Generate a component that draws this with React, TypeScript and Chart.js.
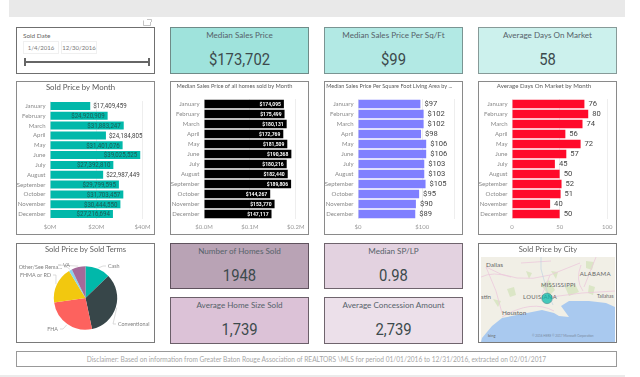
import React, { useEffect, useRef } from "react";
import { Chart, registerables } from "chart.js";

Chart.register(...registerables);

const months = ["January","February","March","April","May","June","July","August","September","October","November","December"];
const soldPriceByMonth = [17409459,24920909,31883247,24184805,31401076,39025525,27392810,22987449,29799595,31703457,30444550,27216694];
const medianPriceByMonth = [174095,175499,180131,172769,181509,190368,180216,182440,189806,144267,153770,147117];
const pricePerSqFtByMonth = [97,102,102,98,106,106,103,103,105,95,90,89];
const daysOnMarketByMonth = [76,80,74,56,72,57,45,50,52,51,40,50];
const termCategories = ["Cash","Conventional","FHA","FHMA or RD","Other/See Rema...","VA"];
const termValues = [12.8,33.9,26,18.6,1.6,7.1];
const cityPoints = [{ x: -91.15, y: 30.45, r: 5.3 }];
const cityNames = ["Baton Rouge"];

const UI = "Lato, sans-serif";
const NUM = "Roboto, sans-serif";
const usd = (v: number) => "$" + v.toLocaleString("en-US");

const barValueLabels = (fmt: (v: number) => string, o: { size: number; weight?: string; colorIn?: string; colorOut: string; insideFrom: number; gap: number; squeeze: number }) => ({
  id: "barValueLabels",
  afterDatasetsDraw(chart: any) {
    const { ctx } = chart;
    const meta = chart.getDatasetMeta(0);
    const vals = chart.data.datasets[0].data as number[];
    ctx.save();
    ctx.font = `${o.weight || "400"} ${o.size}px ${NUM}`;
    ctx.textBaseline = "middle";
    meta.data.forEach((bar: any, i: number) => {
      const inside = vals[i] >= o.insideFrom;
      const text = fmt(vals[i]);
      ctx.fillStyle = inside ? o.colorIn : o.colorOut;
      ctx.textAlign = inside ? "right" : "left";
      ctx.fillText(text, inside ? bar.x - o.gap : bar.x + o.gap, bar.y + 0.5, ctx.measureText(text).width * o.squeeze);
    });
    ctx.restore();
  },
});

type BarProps = {
  left: number; top: number; w: number; h: number; title: string; titleSize: number; titlePadTop: number;
  area: { l: number; r: number; t: number; b: number }; values: number[]; color: string; max: number; step: number;
  tick: (v: number) => string; fmt: (v: number) => string; label: any; barPct: number;
};

function BarPanel(p: BarProps) {
  const ref = useRef<HTMLCanvasElement>(null);
  useEffect(() => {
    const lh = 1.2;
    const chart = new Chart(ref.current!, {
      type: "bar",
      plugins: [barValueLabels(p.fmt, p.label)],
      data: { labels: months, datasets: [{ data: p.values, backgroundColor: p.color, barPercentage: p.barPct, categoryPercentage: 1 }] },
      options: {
        indexAxis: "y", animation: false, responsive: false, devicePixelRatio: 1,
        layout: { autoPadding: false, padding: { left: 0, top: 0, bottom: 0, right: p.w - p.area.r } },
        plugins: {
          legend: { display: false }, tooltip: { enabled: false },
          title: { display: true, text: p.title, color: "#5a5a5a", font: { family: UI, size: p.titleSize, lineHeight: lh, weight: "400" },
            padding: { top: p.titlePadTop, bottom: p.area.t - p.titlePadTop - p.titleSize * lh } },
        },
        scales: {
          y: { afterFit: (s: any) => { s.width = p.area.l; }, grid: { display: false, drawTicks: false }, border: { display: false },
            ticks: { color: "#8a8a8a", font: { family: UI, size: 6, weight: "400" }, padding: 4.5, autoSkip: false } },
          x: { min: 0, max: p.max, afterFit: (s: any) => { s.height = p.h - p.area.b; }, border: { display: false },
            grid: { color: "#eeeeee", drawTicks: false },
            ticks: { stepSize: p.step, color: "#999999", font: { family: UI, size: 6, weight: "400" }, padding: 4.5, maxRotation: 0, callback: (v: any) => p.tick(Number(v)) } },
        },
      },
    } as any);
    return () => chart.destroy();
  }, []);
  return (
    <div style={{ position: "absolute", left: p.left, top: p.top, width: p.w, height: p.h, boxSizing: "border-box", border: "1px solid #8a8a8a" }}>
      <canvas ref={ref} width={p.w} height={p.h} style={{ position: "absolute", left: -1, top: -1, display: "block" }} />
    </div>
  );
}

const pieLabelAnchors = [
  { x: 92, y: 23, align: "left" }, { x: 102, y: 81, align: "left" }, { x: 42, y: 86, align: "right" },
  { x: 35, y: 32, align: "right" }, { x: 46, y: 24, align: "right" }, { x: 47, y: 22, align: "left" },
];

function PiePanel() {
  const ref = useRef<HTMLCanvasElement>(null);
  useEffect(() => {
    const leaders = {
      id: "pieLeaders",
      afterDatasetsDraw(chart: any) {
        const { ctx } = chart;
        ctx.save();
        ctx.font = `400 5.4px ${UI}`;
        ctx.textBaseline = "middle";
        chart.getDatasetMeta(0).data.forEach((arc: any, i: number) => {
          const a = pieLabelAnchors[i];
          const mid = (arc.startAngle + arc.endAngle) / 2;
          const px = arc.x + Math.cos(mid) * (arc.outerRadius + 1);
          const py = arc.y + Math.sin(mid) * (arc.outerRadius + 1);
          ctx.strokeStyle = "#c4c4c4"; ctx.lineWidth = 0.6;
          ctx.beginPath(); ctx.moveTo(px, py);
          const tx = a.align === "left" ? a.x - 2 : a.x + 2;
          ctx.lineTo(tx + (a.align === "left" ? -3 : 3), a.y); ctx.lineTo(tx, a.y); ctx.stroke();
          ctx.fillStyle = "#7f7f7f"; ctx.textAlign = a.align;
          ctx.fillText(termCategories[i], a.x, a.y);
        });
        ctx.restore();
      },
    };
    const chart = new Chart(ref.current!, {
      type: "pie", plugins: [leaders],
      data: { labels: termCategories, datasets: [{ data: termValues, backgroundColor: ["#01b8aa","#374649","#fd625e","#f2c80f","#8ad4eb","#a66999"], borderWidth: 0, radius: 31.7 }] },
      options: {
        animation: false, responsive: false, devicePixelRatio: 1,
        layout: { padding: { bottom: 4 } },
        plugins: { legend: { display: false }, tooltip: { enabled: false },
          title: { display: true, text: "Sold Price by Sold Terms", color: "#5f5f5f", font: { family: UI, size: 7.6, lineHeight: 1.2, weight: "400" }, padding: { top: 2, bottom: 2.9 } } },
      },
    } as any);
    return () => chart.destroy();
  }, []);
  return (
    <div style={{ position: "absolute", left: 16, top: 243, width: 139, height: 100, boxSizing: "border-box", border: "1px solid #7a7a7a" }}>
      <canvas ref={ref} width={139} height={100} style={{ position: "absolute", left: -1, top: -1, display: "block" }} />
    </div>
  );
}

function MapPanel() {
  const ref = useRef<HTMLCanvasElement>(null);
  useEffect(() => {
    const chart = new Chart(ref.current!, {
      type: "bubble",
      data: { labels: cityNames, datasets: [{ data: cityPoints, backgroundColor: "rgba(1,184,170,0.72)", borderColor: "rgba(70,120,120,0.8)", borderWidth: 0.6 }] },
      options: {
        animation: false, responsive: false, devicePixelRatio: 1,
        layout: { autoPadding: false, padding: { left: 3, right: 2, bottom: 2, top: 0 } },
        plugins: { legend: { display: false }, tooltip: { enabled: false },
          title: { display: true, text: "Sold Price by City", color: "#5f5f5f", font: { family: UI, size: 7.6, lineHeight: 1.2, weight: "400" }, padding: { top: 2, bottom: 2.9 } } },
        scales: { x: { display: false, min: -97, max: -85.13 }, y: { display: false, min: 27.2, max: 33.6 } },
      },
    } as any);
    return () => chart.destroy();
  }, []);
  const label = (t: string, x: number, y: number, o: any = {}) => (
    <text x={x} y={y} fontFamily={UI} fontSize={o.size || 6.3} fill={o.fill || "#666"} letterSpacing={o.ls || 0} textAnchor="start">{t}</text>
  );
  return (
    <div style={{ position: "absolute", left: 478, top: 243, width: 139, height: 100, boxSizing: "border-box", border: "1px solid #7a7a7a" }}>
      <svg width={134} height={85} style={{ position: "absolute", left: 2, top: 13 }} viewBox="0 0 134 85">
        <rect width={134} height={85} fill="#f1efe6" />
        <path d="M60 28 l8 -5 l6 10 l-6 6 z M26 32 l7 -2 l2 8 l-6 2 z M45 14 l6 2 l-3 6 z M84 30 l10 -3 l4 8 l-10 4 z M108 28 l6 2 l-2 8 l-5 -2 z M12 42 l8 2 l-3 6 z M70 14 l7 1 l-2 7 z M105 4 l8 1 l-2 8 l-6 -2 z" fill="#dbe6c6" />
        <path d="M5 10 q30 18 64 8 M5 10 l10 24 l6 22 M21 60 q30 -18 52 -6 M69 18 l-8 20 M0 20 q12 -6 30 0 M69 18 l30 -12 M70 40 q30 -5 64 -6 M100 8 q-6 15 2 26 M40 6 l30 -2 M115 0 l-12 30" stroke="#ecc9dc" strokeWidth={0.8} fill="none" />
        <path d="M60 0 l0 12 l6 22 l6 14" stroke="#b9cfe2" strokeWidth={0.6} fill="none" />
        <path d="M0 85 L1 81 L11 69 L21 61 L41 57 L61 53 L73 56 L78 59 L88 60 L80 49 L88 44 L108 44 L125 46 L134 50 L134 85 Z" fill="#a9c9ef" />
        {label("Dallas", 5, 10, { size: 6.4 })}
        {label("ALABAMA", 98.7, 19, { size: 6.1, ls: 0.3 })}
        {label("MISSISSIPPI", 60, 30, { size: 5.9, ls: 0.25 })}
        {label("LOUISIANA", 42, 42, { size: 5.9, ls: 0.35 })}
        {label("stin", 0, 42, { size: 6.2 })}
        {label("Houston", 21, 58, { size: 6.4 })}
        {label("Tallahas", 116, 41, { size: 4.8 })}
        {label("bing", 7, 80, { size: 4, fill: "#666" })}
        {label("© 2016 HERE   © 2017 Microsoft Corporation", 51, 80, { size: 3.1, fill: "#7a8aa0" })}
      </svg>
      <canvas ref={ref} width={139} height={100} style={{ position: "absolute", left: -1, top: -1, display: "block" }} />
    </div>
  );
}

const kpiTitles = ["Median Sales Price","Median Sales Price Per Sq/Ft","Average Days On Market","Number of Homes Sold","Median SP/LP","Average Home Size Sold","Average Concession Amount"];
const kpiValues = ["$173,702","$99","58","1948","0.98","1,739","2,739"];
const kpiBoxes = [
  { l: 170, t: 27, h: 47, bg: "#9fe3dc", b: "#6f8b88" }, { l: 324, t: 27, h: 47, bg: "#b2e9e4", b: "#7a9492" },
  { l: 478, t: 27, h: 47, bg: "#ccf1ed", b: "#879a98" }, { l: 170, t: 243, h: 46, bg: "#b9a3b5", b: "#5f525d" },
  { l: 324, t: 243, h: 46, bg: "#e3d2e0", b: "#6f646d" }, { l: 170, t: 297, h: 47, bg: "#dcc2d7", b: "#6b5f69" },
  { l: 324, t: 297, h: 47, bg: "#ece0ea", b: "#6f646d" },
];

function Kpi({ i }: { i: number }) {
  const k = kpiBoxes[i];
  return (
    <div style={{ position: "absolute", left: k.l, top: k.t, width: 139, height: k.h, boxSizing: "border-box", background: k.bg, border: `1px solid ${k.b}`, textAlign: "center" }}>
      <div style={{ position: "absolute", left: 0, right: 0, top: 1, font: `400 8.1px/12px ${UI}`, color: "#56626a" }}>{kpiTitles[i]}</div>
      <div style={{ position: "absolute", left: 0, right: 0, top: 19, font: `400 17px/24px ${NUM}`, color: "#3c4a4c", transform: "scaleX(0.87)" }}>{kpiValues[i]}</div>
    </div>
  );
}

const abs = (l: number, t: number, w: number, h: number, extra: any = {}) => ({ position: "absolute", left: l, top: t, width: w, height: h, boxSizing: "border-box", ...extra } as React.CSSProperties);

export default function App() {
  useEffect(() => {
    document.body.style.margin = "0";
    document.body.style.background = "#fff";
  }, []);
  return (
    <div style={{ position: "relative", width: 640, height: 377, overflow: "hidden", background: "#fff", filter: "blur(0.3px)" }}>
      <style>{`body{margin:0}`}</style>
      <div style={abs(9, 0, 616, 17, { background: "#e9e9e9" })} />
      <div style={abs(0, 375, 625, 2, { background: "#ebebeb" })} />
      <svg style={{ position: "absolute", left: 143, top: 19 }} width={9} height={7}>
        <path d="M0.5 1.5 V6.5 H7.5 V3 M4 0.5 H8.5 V3" stroke="#aaa" fill="none" strokeWidth={0.7} />
      </svg>
      <div style={abs(16, 27, 139, 47, { border: "1px solid #6f6f6f" })}>
        <div style={{ position: "absolute", left: 6, top: 3, font: `400 6.4px/9px ${UI}`, color: "#666" }}>Sold Date</div>
        <div style={abs(6, 13, 36, 13, { border: "1px solid #f0f0f0", font: `400 6px/11px ${UI}`, color: "#777", textAlign: "center" })}>1/4/2016</div>
        <div style={abs(44, 13, 36, 13, { border: "1px solid #f0f0f0", font: `400 6px/11px ${UI}`, color: "#777", textAlign: "center" })}>12/30/2016</div>
        <div style={abs(7, 33, 125, 2, { background: "#666" })} />
        <div style={abs(7, 30, 2, 8, { background: "#666" })} />
        <div style={abs(131, 30, 2, 8, { background: "#666" })} />
      </div>
      {[0, 1, 2].map((i) => <Kpi key={i} i={i} />)}
      <BarPanel left={16} top={81} w={139} h={154} title="Sold Price by Month" titleSize={7.8} titlePadTop={1.3}
        area={{ l: 34, r: 129, t: 20, b: 138 }} values={soldPriceByMonth} color="#01b8aa" max={40000000} step={20000000}
        tick={(v) => `$${v / 1000000}M`} fmt={usd} barPct={0.82}
        label={{ size: 7.4, colorIn: "#1d5a55", colorOut: "#444", insideFrom: 24500000, gap: 3, squeeze: 0.83 }} />
      <BarPanel left={170} top={81} w={139} h={154} title="Median Sales Price of all homes sold by Month" titleSize={5.7} titlePadTop={1.5}
        area={{ l: 34, r: 129, t: 18, b: 138 }} values={medianPriceByMonth} color="#000000" max={200000} step={100000}
        tick={(v) => `$${(v / 1000000).toFixed(1)}M`} fmt={usd} barPct={0.84}
        label={{ size: 5.9, weight: "700", colorIn: "#ffffff", colorOut: "#444", insideFrom: 0, gap: 3, squeeze: 0.85 }} />
      <BarPanel left={324} top={81} w={139} h={154} title="Median Sales Price Per Square Foot Living Area by ..." titleSize={5.5} titlePadTop={1.5}
        area={{ l: 34, r: 130.5, t: 18, b: 138 }} values={pricePerSqFtByMonth} color="#7f7fff" max={150} step={100}
        tick={(v) => (v <= 100 ? `$${v}` : "")} fmt={(v) => `$${v}`} barPct={0.86}
        label={{ size: 7.6, colorOut: "#444", insideFrom: Infinity, gap: 4, squeeze: 1 }} />
      <BarPanel left={478} top={81} w={139} h={154} title="Average Days On Market by Month" titleSize={6.1} titlePadTop={1.5}
        area={{ l: 34, r: 132, t: 18, b: 138 }} values={daysOnMarketByMonth} color="#ff0a2a" max={100} step={50}
        tick={(v) => `${v}`} fmt={(v) => `${v}`} barPct={0.86}
        label={{ size: 7.6, colorOut: "#444", insideFrom: Infinity, gap: 4, squeeze: 1 }} />
      <PiePanel />
      {[3, 4, 5, 6].map((i) => <Kpi key={i} i={i} />)}
      <MapPanel />
      <div style={abs(16, 351, 601, 16, { border: "1px solid #999", textAlign: "center", font: `400 6.6px/14px ${UI}`, color: "#a6a6a6", whiteSpace: "nowrap" })}>
        Disclaimer: Based on information from Greater Baton Rouge Association of REALTORS \MLS for period 01/01/2016 to 12/31/2016, extracted on 02/01/2017
      </div>
    </div>
  );
}
